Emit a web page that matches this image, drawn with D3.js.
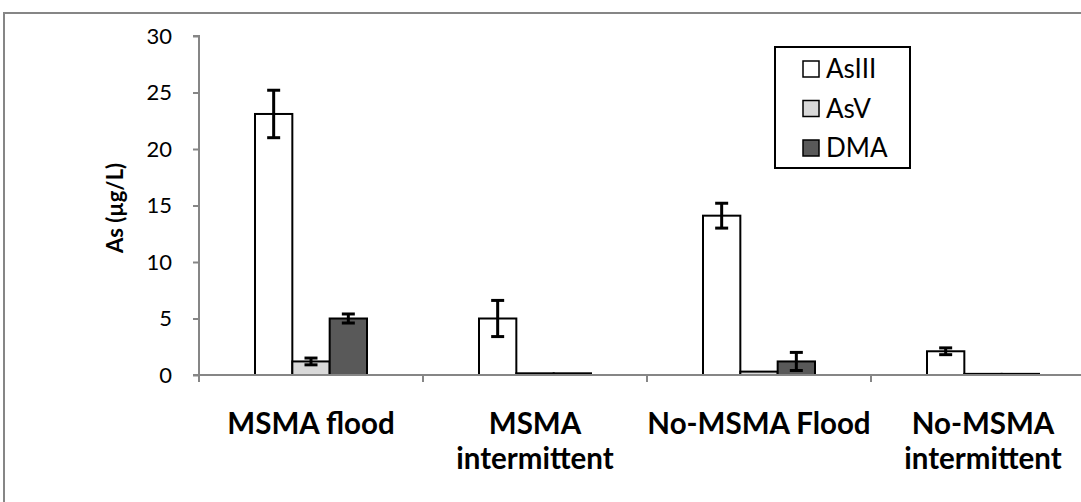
<!DOCTYPE html>
<html>
<head>
<meta charset="utf-8">
<script src="https://cdn.jsdelivr.net/npm/d3@7"></script>
<style>
  body { margin: 0; background: #fff; }
  svg { display: block; font-family: Lato, 'Open Sans', sans-serif; }
</style>
</head>
<body>
<svg id="chart"></svg>
<script>
const categories = ['MSMA flood', 'MSMA intermittent', 'No-MSMA Flood', 'No-MSMA intermittent'];
const categoryLines = [['MSMA flood'], ['MSMA', 'intermittent'], ['No-MSMA Flood'], ['No-MSMA', 'intermittent']];
const series = ['AsIII', 'AsV', 'DMA'];
const asIII = [23.1, 5.0, 14.1, 2.1];
const asV = [1.2, 0.15, 0.3, 0.1];
const dma = [5.0, 0.15, 1.2, 0.1];
const asIIIErr = [2.1, 1.6, 1.1, 0.3];
const asVErr = [0.3, 0, 0, 0];
const dmaErr = [0.4, 0, 0.8, 0];
const yTicks = [0, 5, 10, 15, 20, 25, 30];

function drawChart() {
  const width = 1081, height = 502;
  const svg = d3.select('#chart').attr('width', width).attr('height', height);

  const colors = { AsIII: '#ffffff', AsV: '#d9d9d9', DMA: '#595959' };
  const values = { AsIII: asIII, AsV: asV, DMA: dma };
  const errs = { AsIII: asIIIErr, AsV: asVErr, DMA: dmaErr };

  // outer chart border (runs off the right/bottom edge like the original)
  svg.append('rect')
    .attr('x', 4).attr('y', 13).attr('width', width + 20).attr('height', height + 20)
    .attr('fill', 'none').attr('stroke', '#868686').attr('stroke-width', 2);

  const x = d3.scaleBand().domain(categories).range([199, 1095]);
  const xs = d3.scaleBand().domain(series).range([0, x.bandwidth()]).paddingOuter(1.5).paddingInner(0);
  const y = d3.scaleLinear().domain([0, 30]).range([375, 36]);

  const data = [];
  categories.forEach((c, i) => {
    series.forEach((s) => data.push({ cat: c, s: s, v: values[s][i], e: errs[s][i] }));
  });

  // y axis
  const yAxis = svg.append('g').attr('transform', 'translate(199,0)')
    .call(d3.axisLeft(y).tickValues(yTicks).tickSize(6).tickPadding(21));
  yAxis.select('.domain').attr('stroke', '#868686').attr('stroke-width', 2).attr('d', 'M-6,36H0V375');
  yAxis.selectAll('.tick line').attr('stroke', '#868686').attr('stroke-width', 2);
  yAxis.selectAll('.tick text').attr('fill', '#000').style('font-size', '22px')
    .style('font-family', 'Lato, sans-serif');

  svg.append('text')
    .attr('transform', 'translate(123,208) rotate(-90)')
    .attr('text-anchor', 'middle')
    .style('font-size', '22px').style('font-weight', 'bold')
    .text('As (µg/L)');

  // bars
  svg.append('g').selectAll('rect.bar')
    .data(data).enter().append('rect')
    .classed('bar', true)
    .attr('x', (d) => x(d.cat) + xs(d.s))
    .attr('y', (d) => y(d.v))
    .attr('width', xs.bandwidth())
    .attr('height', (d) => y(0) - y(d.v))
    .attr('fill', (d) => colors[d.s])
    .attr('stroke', '#000').attr('stroke-width', 2);

  // error bars
  const eb = svg.append('g').selectAll('g.err')
    .data(data.filter((d) => d.e > 0)).enter().append('g').classed('err', true)
    .attr('transform', (d) => `translate(${x(d.cat) + xs(d.s) + xs.bandwidth() / 2},0)`);
  eb.append('line')
    .attr('y1', (d) => y(d.v + d.e)).attr('y2', (d) => y(d.v - d.e))
    .attr('stroke', '#000').attr('stroke-width', 3);
  eb.selectAll('line.cap')
    .data((d) => [d.v + d.e, d.v - d.e]).enter().append('line').classed('cap', true)
    .attr('x1', -6.5).attr('x2', 6.5)
    .attr('y1', (v) => y(v)).attr('y2', (v) => y(v))
    .attr('stroke', '#000').attr('stroke-width', 3);

  // x axis
  const xAxis = svg.append('g').attr('transform', 'translate(0,375)');
  xAxis.append('line').attr('x1', 193).attr('x2', 1095)
    .attr('stroke', '#868686').attr('stroke-width', 2);
  xAxis.selectAll('line.tick')
    .data(categories.concat([null])).enter().append('line').classed('tick', true)
    .attr('x1', (d) => (d ? x(d) : 1095)).attr('x2', (d) => (d ? x(d) : 1095))
    .attr('y1', 0).attr('y2', 7)
    .attr('stroke', '#868686').attr('stroke-width', 2);

  const labels = svg.append('g').selectAll('text.cat')
    .data(categories).enter().append('text').classed('cat', true)
    .attr('text-anchor', 'middle')
    .attr('x', (d) => x(d) + x.bandwidth() / 2)
    .attr('y', 434)
    .style('font-size', '29.5px').style('font-weight', 'bold');
  labels.selectAll('tspan')
    .data((d, i) => categoryLines[i]).enter().append('tspan')
    .attr('x', function () { return d3.select(this.parentNode).attr('x'); })
    .attr('dy', (d, i) => (i === 0 ? 0 : 35))
    .text((d) => d);

  // legend
  const legend = svg.append('g');
  legend.append('rect')
    .attr('x', 775).attr('y', 47).attr('width', 135).attr('height', 121)
    .attr('fill', '#fff').attr('stroke', '#000').attr('stroke-width', 2);
  const item = legend.selectAll('g.item')
    .data(series).enter().append('g').classed('item', true)
    .attr('transform', (d, i) => `translate(803,${69 + i * 39.5})`);
  item.append('rect')
    .attr('x', 0).attr('y', -8).attr('width', 16).attr('height', 16)
    .attr('fill', (d) => colors[d]).attr('stroke', '#000').attr('stroke-width', 1.5);
  item.append('text')
    .attr('x', 23).attr('y', 0).attr('dy', '0.36em')
    .style('font-size', '26px')
    .text((d) => d);
}

drawChart();
</script>
</body>
</html>
